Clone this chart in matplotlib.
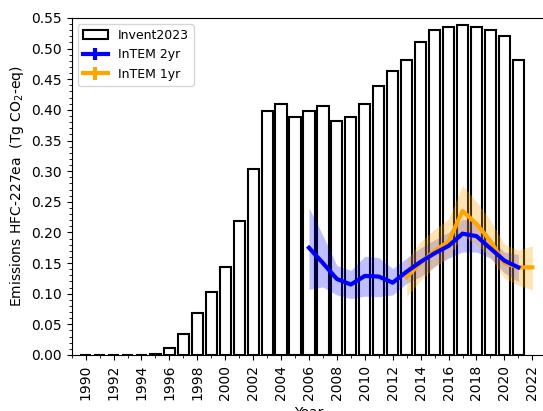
import matplotlib
matplotlib.use("Agg")
import matplotlib.pyplot as plt
from matplotlib.ticker import MultipleLocator
import numpy as np

# inventory (bars)
inv_years = np.arange(1990, 2022)
inv_vals = [0.0, 0.0, 0.0, 0.0, 0.0, 0.002, 0.011, 0.035, 0.069, 0.103,
            0.144, 0.219, 0.304, 0.398, 0.410, 0.388, 0.398, 0.407, 0.382, 0.388,
            0.410, 0.439, 0.464, 0.482, 0.511, 0.530, 0.536, 0.539, 0.536, 0.530,
            0.520, 0.482]

# InTEM 2yr
yr2_years = np.arange(2006, 2022)
yr2_vals = [0.175, 0.150, 0.124, 0.115, 0.129, 0.128, 0.118, 0.136, 0.152, 0.166,
            0.178, 0.198, 0.194, 0.174, 0.154, 0.143]
yr2_low = [0.107, 0.111, 0.098, 0.092, 0.096, 0.095, 0.098, 0.117, 0.128, 0.145,
           0.158, 0.168, 0.168, 0.158, 0.134, 0.120]
yr2_high = [0.240, 0.195, 0.146, 0.138, 0.161, 0.159, 0.141, 0.158, 0.175, 0.188,
            0.200, 0.222, 0.215, 0.190, 0.168, 0.164]

# InTEM 1yr
yr1_years = np.arange(2013, 2023)
yr1_vals = [0.127, 0.150, 0.170, 0.185, 0.235, 0.214, 0.186, 0.150, 0.143, 0.143]
yr1_low = [0.095, 0.122, 0.143, 0.160, 0.195, 0.180, 0.160, 0.125, 0.114, 0.106]
yr1_high = [0.155, 0.185, 0.205, 0.222, 0.277, 0.250, 0.220, 0.180, 0.171, 0.178]

fig = plt.figure(figsize=(5.43, 4.11), dpi=100)
ax = fig.add_axes([0.132, 0.1363, 0.874, 0.82])

ax.bar(inv_years, inv_vals, width=0.8, color='white', edgecolor='black',
       linewidth=1.5, label='Invent2023', zorder=1)

ax.fill_between(yr2_years, yr2_low, yr2_high, color='blue', alpha=0.25,
                linewidth=0, zorder=2)
ax.errorbar(yr2_years, yr2_vals, yerr=np.zeros(len(yr2_vals)), color='blue',
            linewidth=3, label='InTEM 2yr', zorder=4)

ax.fill_between(yr1_years, yr1_low, yr1_high, color='orange', alpha=0.3,
                linewidth=0, zorder=2)
ax.errorbar(yr1_years, yr1_vals, yerr=np.zeros(len(yr1_vals)), color='orange',
            linewidth=3, label='InTEM 1yr', zorder=3)

ax.set_xlim(1989, 2023)
ax.set_ylim(0, 0.55)
ax.set_xticks(np.arange(1990, 2023, 2))
ax.xaxis.set_minor_locator(MultipleLocator(1))
ax.yaxis.set_major_locator(MultipleLocator(0.05))
ax.yaxis.set_minor_locator(MultipleLocator(0.01))
ax.yaxis.set_major_formatter(matplotlib.ticker.FormatStrFormatter('%.2f'))
plt.setp(ax.get_xticklabels(), rotation=90)

ax.set_xlabel('Year')
ax.set_ylabel('Emissions HFC-227ea  (Tg CO$_2$-eq)')
ax.legend(loc='upper left', fontsize=9)

fig.savefig('out.png', dpi=100)
